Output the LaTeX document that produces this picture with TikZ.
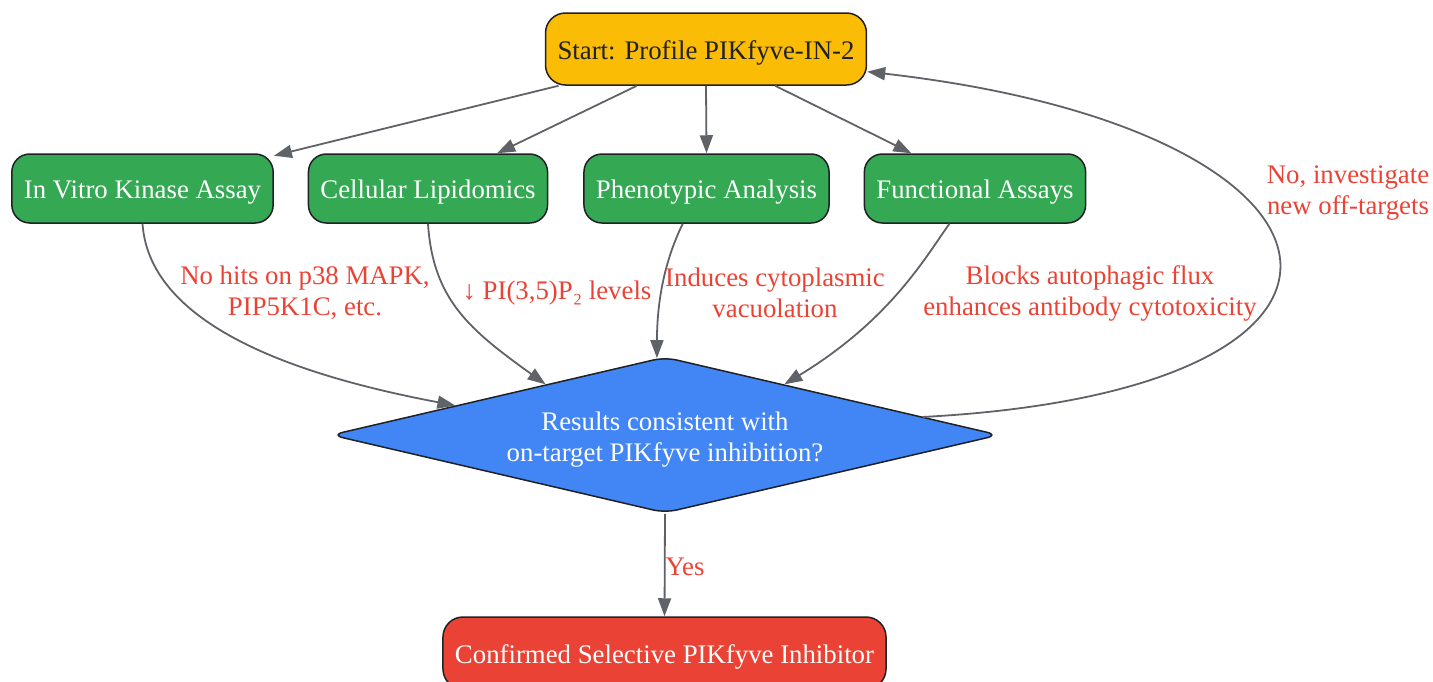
\documentclass[tikz,border=0pt]{standalone}
\usepackage{fontspec}
\setmainfont{Liberation Serif}
\usetikzlibrary{shapes.geometric,arrows.meta}
\definecolor{startcol}{HTML}{FBBC05}
\definecolor{stepcol}{HTML}{34A853}
\definecolor{askcol}{HTML}{4285F4}
\definecolor{endcol}{HTML}{EA4335}
\definecolor{edgecol}{HTML}{5F6368}
\definecolor{inkcol}{HTML}{202124}

\begin{document}
\begin{tikzpicture}[x=1pt,y=-1pt,
  every node/.style={font=\fontsize{26.8}{31}\selectfont},
  box/.style={draw=inkcol,line width=1.5pt,rounded corners=18pt,inner xsep=12pt,minimum height=69pt,
    text height=20pt,text depth=0pt,text=white},
  ask/.style={diamond,draw=inkcol,line width=1.5pt,rounded corners=12pt,fill=askcol,text=white,align=center,
    aspect=4.27,minimum width=668pt,minimum height=156pt,inner sep=0pt,text height=53pt,text depth=0pt},
  link/.style={draw=edgecol,line width=1.8pt,-{Triangle[length=18pt,width=13pt]}},
  lbl/.style={text=endcol,align=center}]
  \useasboundingbox (0,0) rectangle (1433,681);

  % boxes
  \node[box,fill=startcol,text=inkcol,minimum height=72pt,rounded corners=20pt] (start) at (706,49) {Start: Profile PIKfyve-IN-2};
  \node[box,fill=stepcol] (vitro) at (142.5,188.5) {In Vitro Kinase Assay};
  \node[box,fill=stepcol] (lipid) at (428,188.5) {Cellular Lipidomics};
  \node[box,fill=stepcol] (pheno) at (706.5,188.5) {Phenotypic Analysis};
  \node[box,fill=stepcol] (func) at (975,188.5) {Functional Assays};
  \node[ask] (dec) at (665,435) {Results consistent with\\on-target PIKfyve inhibition?};
  \node[box,fill=endcol,minimum height=72pt,rounded corners=20pt] (done) at (664.5,653) {Confirmed Selective PIKfyve Inhibitor};

  % fan out
  \draw[link] (start.194) -- (vitro.14);
  \draw[link] (start.208) -- (lipid.27);
  \draw[link] (start.south) -- (pheno.north);
  \draw[link] (start.332) -- (func.151);

  % into the check
  \draw[link] (vitro.south) .. controls (150,330) and (310,378) .. (dec.172);
  \draw[link] (lipid.south) .. controls (433,300) and (470,330) .. (dec.157);
  \draw[link] (pheno.236) .. controls (665,260) and (657,300) .. (dec.96);
  \draw[link] (func.234) .. controls (925,258) and (890,320) .. (dec.23);
  \node[lbl] (lvitro) at (305,293) {No hits on p38 MAPK,\\PIP5K1C, etc.};
  \node[lbl] (llipid) at (557,293) {↓ PI(3,5)P₂ levels};
  \node[lbl] (lpheno) at (775,293) {Induces cytoplasmic\\vacuolation};
  \node[lbl] (lfunc) at (1090,293) {Blocks autophagic flux\\enhances antibody cytotoxicity};

  % outcome
  \draw[link] (dec.4) .. controls (1430,390) and (1380,130) .. (start.352);
  \node[lbl] (lno) at (1348,193) {No, investigate\\new off-targets};
  \draw[link] (dec.south) -- (done.north);
  \node[lbl] (lyes) at (685,567) {Yes};
\end{tikzpicture}
\end{document}
